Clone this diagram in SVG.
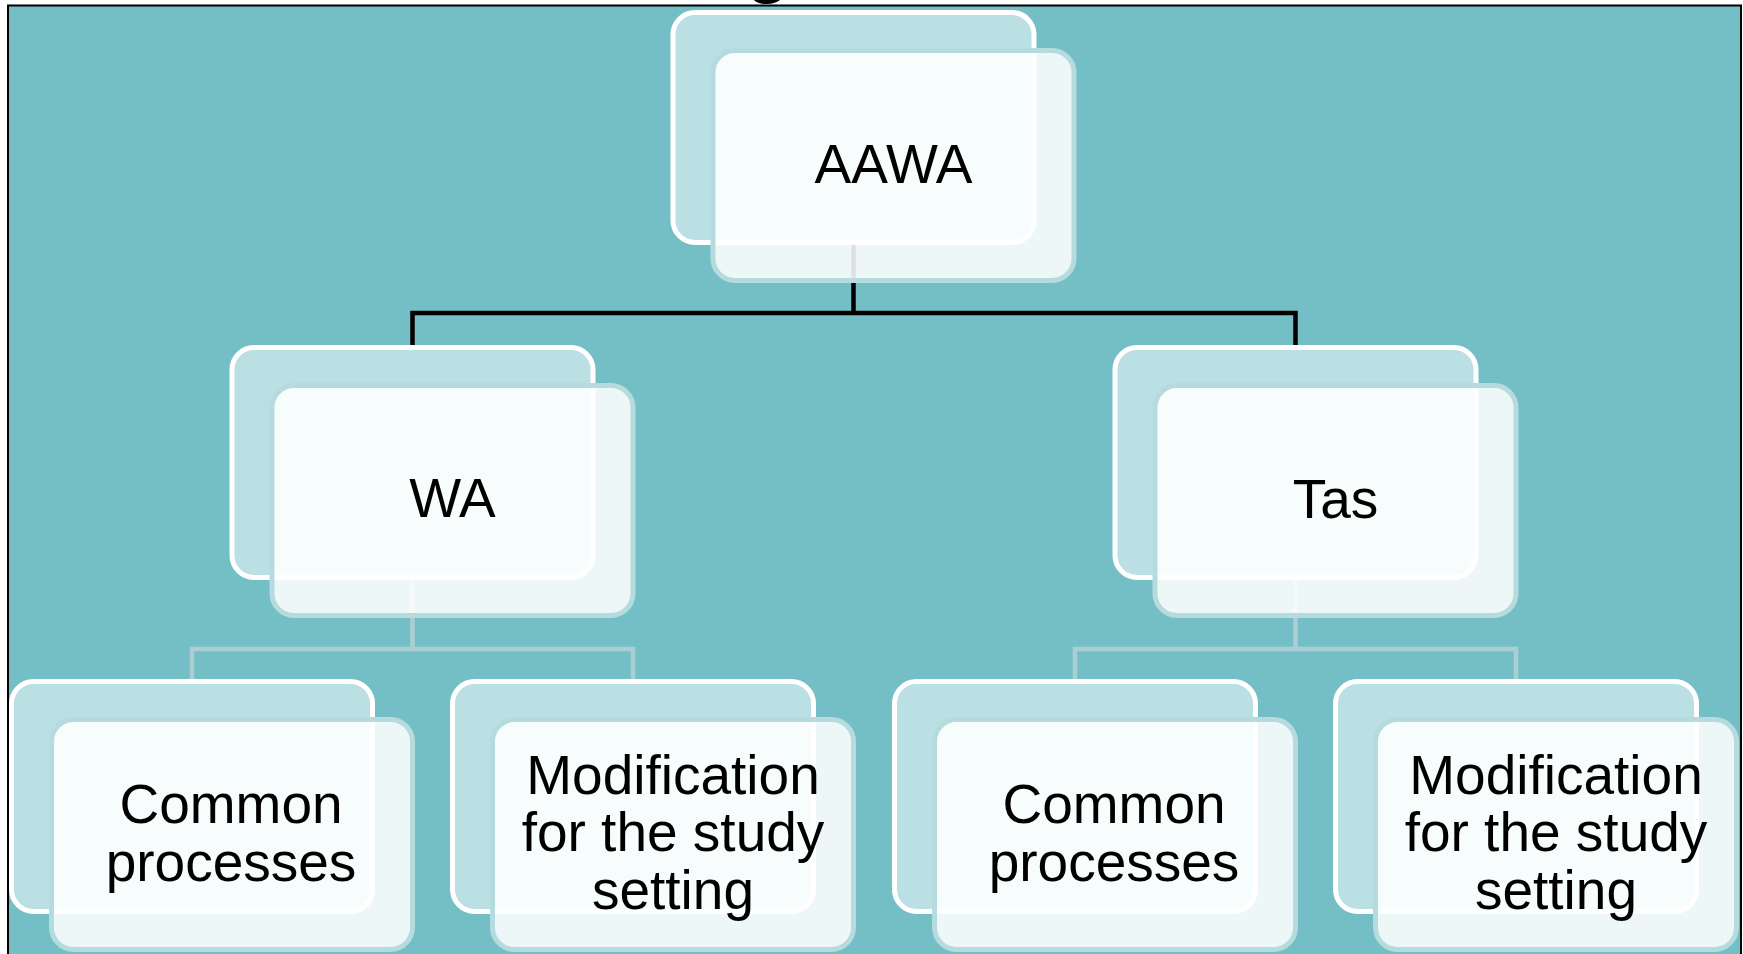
<svg xmlns="http://www.w3.org/2000/svg" width="1743" height="954" viewBox="0 0 1743 954">
<style>
.back{fill:#BBE0E3;stroke:#FFFFFF;stroke-width:5}
.front{fill:#FFFFFF;fill-opacity:0.88;stroke:#B6DBDF;stroke-width:5}
.lbl{font-family:"Liberation Sans",Arial,sans-serif;font-size:55px;fill:#000000;text-anchor:middle}
.c1{fill:none;stroke:#000000;stroke-width:4.5}
.c2{fill:none;stroke:#AACFD3;stroke-width:4.5}
</style>
<rect x="0" y="0" width="1743" height="954" fill="#FFFFFF"/>
<text x="768" y="-11" font-family="Liberation Sans, Arial, sans-serif" font-size="72" font-weight="bold" text-anchor="middle" fill="#000000">g</text>
<rect x="8" y="5.5" width="1733" height="1000" fill="#74BFC5" stroke="#000000" stroke-width="2"/>
<g id="connectors">
<path class="c1" d="M853.5 245 V313 M412.5 347 V313 H1295.5 V347"/>
<path class="c2" d="M412.5 579 V649 M192 681 V649 H633 V681"/>
<path class="c2" d="M1295.5 579 V649 M1075 681 V649 H1516 V681"/>
</g>
<g id="node-aawa">
<rect class="back" x="673" y="12.5" width="361" height="230" rx="22"/>
<rect class="front" x="713" y="50.5" width="361" height="230" rx="22"/>
<text class="lbl" x="893.5" y="183">AAWA</text>
</g>
<g id="node-wa">
<rect class="back" x="232" y="347.5" width="361" height="230" rx="22"/>
<rect class="front" x="272" y="385.5" width="361" height="230" rx="22"/>
<text class="lbl" x="452.5" y="517">WA</text>
</g>
<g id="node-tas">
<rect class="back" x="1115" y="347.5" width="361" height="230" rx="22"/>
<rect class="front" x="1155" y="385.5" width="361" height="230" rx="22"/>
<text class="lbl" x="1335.5" y="518">Tas</text>
</g>
<g id="node-wa-common">
<rect class="back" x="11.5" y="681.5" width="361" height="230" rx="22"/>
<rect class="front" x="51.5" y="719.5" width="361" height="230" rx="22"/>
<text class="lbl" x="231" y="823">Common</text>
<text class="lbl" x="231" y="881">processes</text>
</g>
<g id="node-wa-mod">
<rect class="back" x="452.5" y="681.5" width="361" height="230" rx="22"/>
<rect class="front" x="492.5" y="719.5" width="361" height="230" rx="22"/>
<text class="lbl" x="673" y="794">Modification</text>
<text class="lbl" x="673" y="851">for the study</text>
<text class="lbl" x="673" y="908.5">setting</text>
</g>
<g id="node-tas-common">
<rect class="back" x="894.5" y="681.5" width="361" height="230" rx="22"/>
<rect class="front" x="934.5" y="719.5" width="361" height="230" rx="22"/>
<text class="lbl" x="1114" y="823">Common</text>
<text class="lbl" x="1114" y="881">processes</text>
</g>
<g id="node-tas-mod">
<rect class="back" x="1335.5" y="681.5" width="361" height="230" rx="22"/>
<rect class="front" x="1375.5" y="719.5" width="361" height="230" rx="22"/>
<text class="lbl" x="1556" y="794">Modification</text>
<text class="lbl" x="1556" y="851">for the study</text>
<text class="lbl" x="1556" y="908.5">setting</text>
</g>
</svg>
